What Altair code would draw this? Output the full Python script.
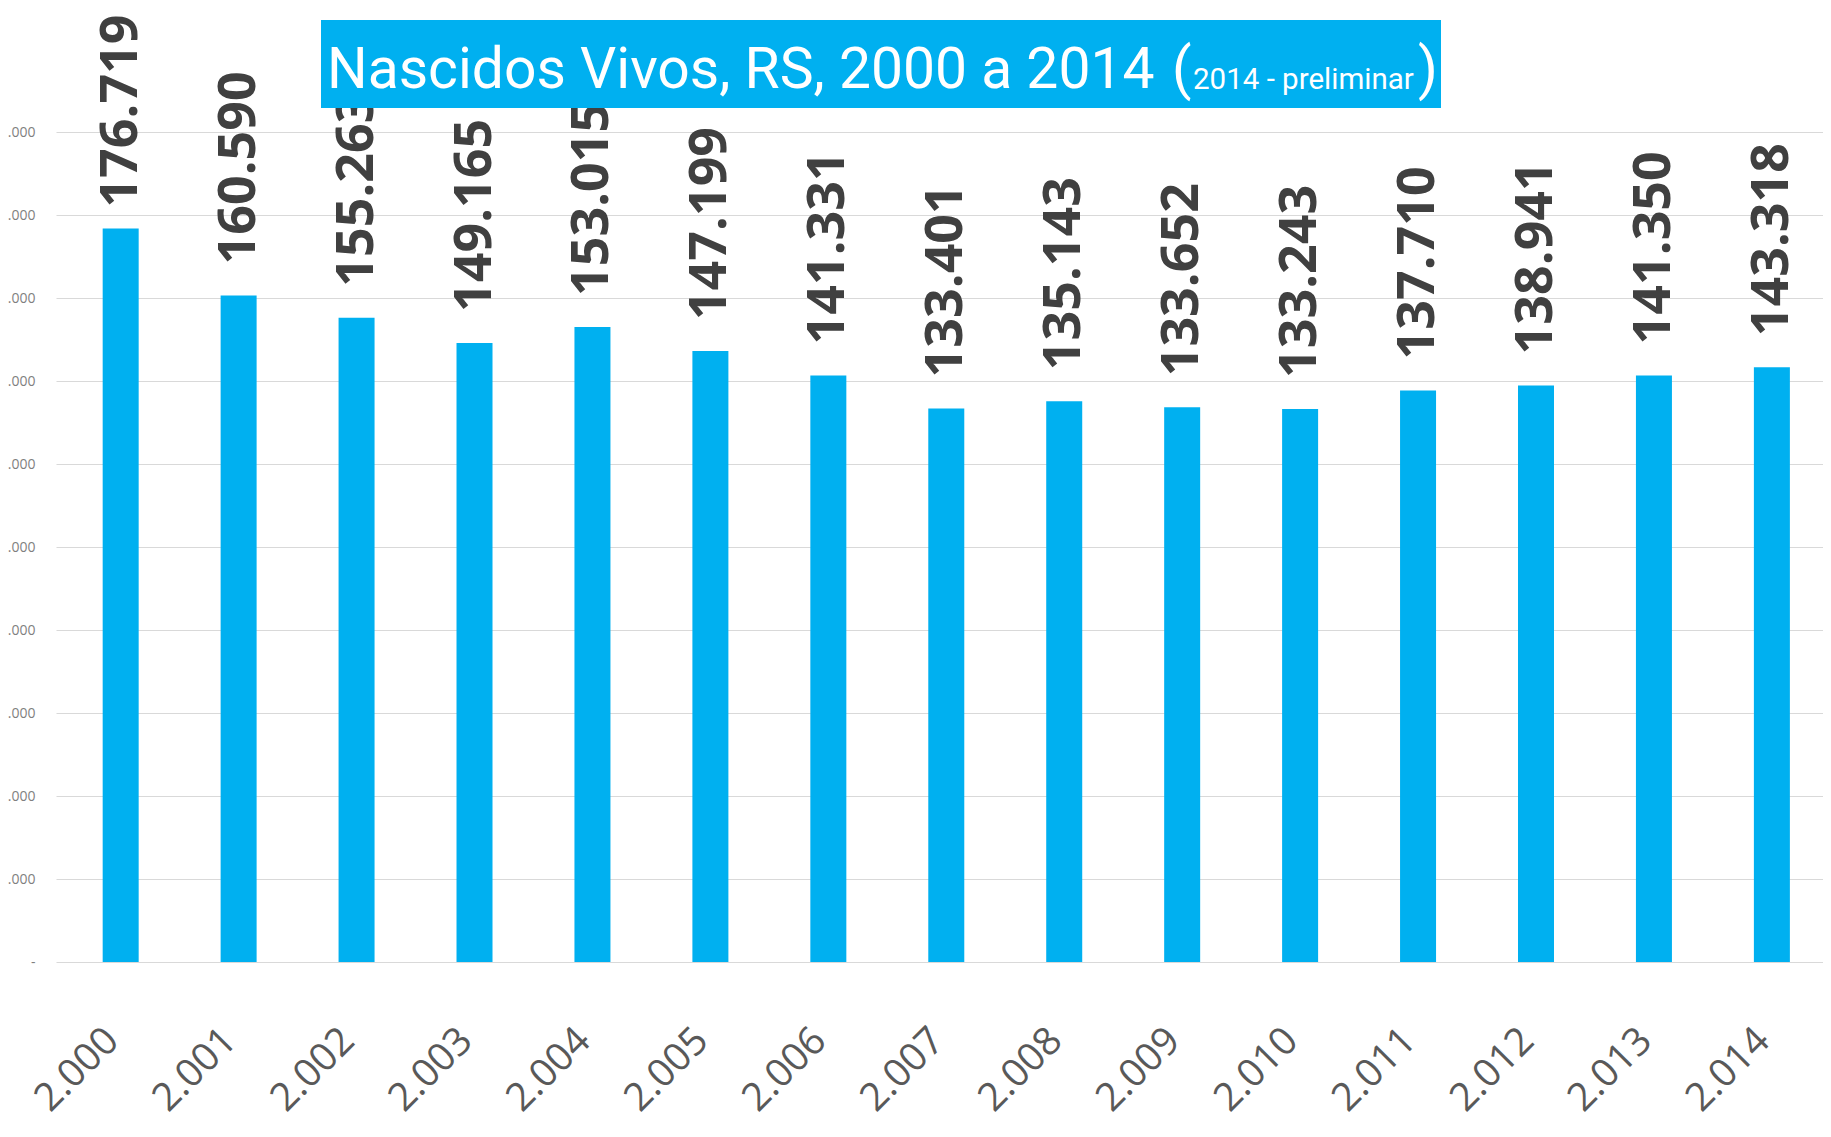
import altair as alt
import pandas as pd

# ---- data ----
years = list(range(2000, 2015))
births = [176719, 160590, 155263, 149165, 153015, 147199, 141331, 133401,
          135143, 133652, 133243, 137710, 138941, 141350, 143318]
y_ticks = list(range(0, 200001, 20000))
title_main = "Nascidos Vivos, RS, 2000 a 2014"
title_note = "2014 - preliminar"

df = pd.DataFrame({"ano": years, "nascidos": births})

BLUE = "#00B0F0"
TFONT = "Roboto"
PT = "replace(format(datum.value, ','), ',', '.')"

x_scale = alt.Scale(domain=[1999.494, 2014.391], nice=False, zero=False)
y_scale = alt.Scale(domain=[0, 200000], nice=False, zero=True)

base = alt.Chart(df)

bars = base.mark_bar(width=36, color=BLUE).encode(
    x=alt.X(
        "ano:Q",
        scale=x_scale,
        axis=alt.Axis(
            values=years, labelExpr=PT, labelAngle=-45, labelAlign="right",
            labelBaseline="middle", labelFont="Open Sans", labelFontSize=39,
            labelColor="#595959", labelPadding=72, labelOffset=-9,
            ticks=False, tickSize=0, domain=False, grid=False, title=None,
            labelOverlap=False, labelFlush=False,
        ),
    ),
    y=alt.Y(
        "nascidos:Q",
        scale=y_scale,
        axis=alt.Axis(
            values=y_ticks,
            labelExpr="datum.value == 0 ? '-\u00a0\u00a0\u00a0' : " + PT,
            labelFont="Open Sans", labelFontSize=14, labelColor="#7f7f7f",
            labelPadding=21, ticks=False, tickSize=0, domain=False,
            grid=True, gridColor="#d9d9d9", gridWidth=1.2, title=None,
            labelOverlap=False, labelFlush=False,
        ),
    ),
)

lbl_calc = "replace(format(datum.nascidos, ','), ',', '.')"
label_props = dict(angle=270, align="left", baseline="middle", font="Open Sans",
                   fontSize=52, fontWeight="bold", color="#404040")

labels_first = base.transform_filter("datum.ano == 2000").transform_calculate(
    lbl=lbl_calc
).mark_text(dx=21, **label_props).encode(x="ano:Q", y="nascidos:Q", text="lbl:N")

labels_rest = base.transform_filter("datum.ano != 2000").transform_calculate(
    lbl=lbl_calc
).mark_text(dx=31, **label_props).encode(x="ano:Q", y="nascidos:Q", text="lbl:N")

tdf = pd.DataFrame({"main": [title_main], "note": [title_note]})
tbase = alt.Chart(tdf)

box = tbase.mark_rect(color=BLUE).encode(
    x=alt.value(265), x2=alt.value(1385), y=alt.value(-112), y2=alt.value(-24)
)
t_main = tbase.mark_text(align="left", baseline="alphabetic", font=TFONT,
                         fontSize=57, color="white").encode(
    x=alt.value(271), y=alt.value(-44), text="main:N"
)
t_open = tbase.mark_text(align="left", baseline="alphabetic", font=TFONT,
                         fontSize=57, color="white", text="(").encode(
    x=alt.value(1116), y=alt.value(-44)
)
t_note = tbase.mark_text(align="left", baseline="alphabetic", font=TFONT,
                         fontSize=29.5, color="white").encode(
    x=alt.value(1137), y=alt.value(-43), text="note:N"
)
t_close = tbase.mark_text(align="left", baseline="alphabetic", font=TFONT,
                          fontSize=57, color="white", text=")").encode(
    x=alt.value(1362), y=alt.value(-44)
)

chart = alt.layer(bars, labels_first, labels_rest, box, t_main, t_open, t_note, t_close).properties(
    width=1767,
    height=830,
    autosize=alt.AutoSizeParams(type="none"),
    padding={"left": 48, "top": 124, "right": 0, "bottom": 159},
    background="white",
).configure_view(stroke=None)

chart.save("out.html", embed_options={"renderer": "svg", "actions": False})
